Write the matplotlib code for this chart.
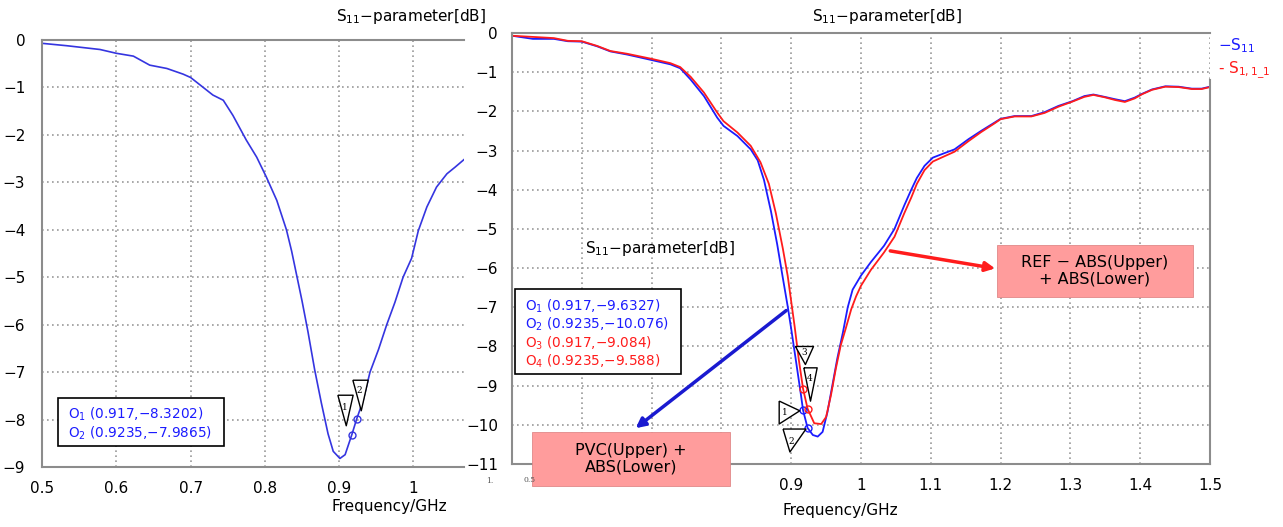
import numpy as np
import matplotlib.pyplot as plt
from matplotlib.patches import Rectangle
from matplotlib.transforms import offset_copy

# left panel: single S11 curve
freq_a = [0.50, 0.533, 0.578, 0.60, 0.623, 0.645, 0.668, 0.69, 0.70, 0.713, 0.73, 0.744,
          0.757, 0.775, 0.789, 0.802, 0.816, 0.829, 0.836, 0.84, 0.85, 0.858, 0.867, 0.876,
          0.885, 0.892, 0.901, 0.908, 0.917, 0.9235, 0.932, 0.9415, 0.953, 0.964, 0.975,
          0.986, 0.9975, 1.0065, 1.018, 1.031, 1.045, 1.056, 1.068]
s11_a = [-0.07, -0.12, -0.2, -0.28, -0.34, -0.53, -0.6, -0.72, -0.79, -0.95, -1.16, -1.27,
         -1.59, -2.11, -2.47, -2.89, -3.38, -4.0, -4.45, -4.75, -5.5, -6.15, -6.95, -7.65,
         -8.3, -8.67, -8.82, -8.74, -8.32, -7.99, -7.61, -7.0, -6.52, -6.0, -5.53,
         -5.0, -4.6, -4.02, -3.52, -3.1, -2.82, -2.68, -2.52]

# right panel: blue curve (S11)
freq_b = [0.50, 0.53, 0.56, 0.58, 0.60, 0.622, 0.641, 0.665, 0.70, 0.727, 0.741, 0.756,
          0.775, 0.794, 0.803, 0.823, 0.842, 0.852, 0.861, 0.871, 0.88, 0.888, 0.895, 0.90,
          0.907, 0.914, 0.917, 0.9235, 0.931, 0.938, 0.945, 0.952, 0.959, 0.966, 0.974,
          0.981, 0.988, 1.0, 1.014, 1.033, 1.048, 1.062, 1.072, 1.08, 1.091, 1.103,
          1.119, 1.134, 1.154, 1.172, 1.191, 1.2, 1.22, 1.244, 1.263, 1.283, 1.303, 1.32,
          1.333, 1.349, 1.364, 1.378, 1.392, 1.403, 1.417, 1.436, 1.455, 1.474, 1.488, 1.5]
s11_b = [-0.07, -0.15, -0.15, -0.21, -0.22, -0.34, -0.47, -0.55, -0.69, -0.8, -0.9, -1.19,
         -1.61, -2.16, -2.37, -2.63, -2.97, -3.25, -3.75, -4.55, -5.4, -6.25, -6.98, -7.55,
         -8.39, -9.24, -9.63, -10.08, -10.26, -10.3, -10.18, -9.67, -8.99, -8.31, -7.65,
         -7.0, -6.55, -6.19, -5.85, -5.43, -5.0, -4.4, -4.0, -3.7, -3.39, -3.18,
         -3.07, -2.97, -2.71, -2.5, -2.29, -2.19, -2.12, -2.12, -2.02, -1.86, -1.74, -1.61,
         -1.57, -1.63, -1.69, -1.74, -1.65, -1.55, -1.44, -1.36, -1.37, -1.42, -1.42, -1.37]

# right panel: red curve (S1,1_1)
freq_c = [0.50, 0.53, 0.56, 0.58, 0.60, 0.622, 0.641, 0.665, 0.70, 0.727, 0.741, 0.756,
          0.775, 0.794, 0.803, 0.823, 0.842, 0.856, 0.868, 0.878, 0.888, 0.895, 0.90,
          0.905, 0.911, 0.917, 0.9235, 0.933, 0.943, 0.95, 0.957, 0.964, 0.971, 0.978,
          0.986, 0.993, 1.0, 1.014, 1.033, 1.048, 1.062, 1.072, 1.08, 1.091, 1.103,
          1.119, 1.134, 1.154, 1.172, 1.191, 1.2, 1.22, 1.244, 1.263, 1.283, 1.303, 1.32,
          1.333, 1.349, 1.364, 1.378, 1.392, 1.403, 1.417, 1.436, 1.455, 1.474, 1.488, 1.5]
s11_c = [-0.07, -0.1, -0.13, -0.2, -0.21, -0.33, -0.46, -0.53, -0.66, -0.77, -0.87, -1.12,
         -1.52, -2.03, -2.25, -2.54, -2.88, -3.3, -3.85, -4.6, -5.5, -6.2, -6.85,
         -7.5, -8.35, -9.08, -9.59, -9.96, -9.98, -9.8, -9.24, -8.56, -7.97, -7.55,
         -7.05, -6.72, -6.45, -6.05, -5.6, -5.2, -4.6, -4.2, -3.85, -3.5, -3.28,
         -3.15, -3.03, -2.76, -2.53, -2.31, -2.2, -2.13, -2.13, -2.04, -1.88, -1.75, -1.63,
         -1.58, -1.64, -1.71, -1.76, -1.67, -1.56, -1.45, -1.37, -1.38, -1.43, -1.43, -1.38]

# marker readouts
mark_a = [(0.917, -8.3202), (0.9235, -7.9865)]
mark_b = [(0.917, -9.6327), (0.9235, -10.076)]
mark_c = [(0.917, -9.084), (0.9235, -9.588)]

W, H = 1283, 527


def fx(px):
    return px / W


def fy(py):
    return 1 - py / H


blue_a = '#3535e0'
blue = '#1c1cff'
red = '#ff1c1c'
spine_col = '#8c8c8c'
grid_col = '#9a9a9a'
pink = '#ff9c9c'

fig = plt.figure(figsize=(W / 100, H / 100), dpi=100)

axA = fig.add_axes([fx(42), fy(467), fx(464 - 42), (467 - 40) / H])
axB = fig.add_axes([fx(512), fy(464), fx(1210 - 512), (464 - 33) / H])

for ax in (axA, axB):
    ax.grid(True, color=grid_col, linestyle=(0, (1, 2)), linewidth=1.2)
    ax.tick_params(length=0, labelsize=11, pad=10)
    for s in ax.spines.values():
        s.set_color(spine_col)
        s.set_linewidth(1.5)

# left panel
axA.plot(freq_a, s11_a, color=blue_a, lw=1.2)
axA.set_xlim(0.5, 1.068)
axA.set_ylim(-9, 0)
axA.set_xticks([0.5, 0.6, 0.7, 0.8, 0.9, 1.0])
axA.set_xticklabels(['0.5', '0.6', '0.7', '0.8', '0.9', '1'])
axA.set_yticks(range(-9, 1))
axA.set_yticklabels(['\u2212' + str(abs(v)) if v else '0' for v in range(-9, 1)])
axA.spines['right'].set_visible(False)
axA.tick_params(axis='y', pad=12)
axA.plot(*zip(*mark_a), 'o', ms=5, mfc='none', mec=blue_a, mew=1)

# right panel
axB.plot(freq_b, s11_b, color=blue, lw=1.3)
axB.plot(freq_c, s11_c, color=red, lw=1.3)
axB.set_xlim(0.5, 1.5)
axB.set_ylim(-11, 0)
xt = [0.5, 0.6, 0.7, 0.8, 0.9, 1.0, 1.1, 1.2, 1.3, 1.4, 1.5]
axB.set_xticks(xt)
axB.set_xticklabels(['', '', '', '', '0.9', '1', '1.1', '1.2', '1.3', '1.4', '1.5'])
axB.set_yticks(range(-11, 1))
axB.set_yticklabels(['\u2212' + str(abs(v)) if v else '0' for v in range(-11, 1)])
axB.spines['right'].set_bounds(-11, -1.2)
axB.plot(*zip(*mark_b), 'o', ms=5, mfc='none', mec=blue, mew=1)
axB.plot(*zip(*mark_c), 'o', ms=5, mfc='none', mec=red, mew=1)

# triangle callouts near the markers (offsets in pixels)
tri_tall = [(-0.5, 1), (0.5, 1), (0.05, -1), (-0.5, 1)]
tri_slim = [(-0.4, 1), (0.4, 1), (0.0, -1), (-0.4, 1)]
tri_wide = [(-1, 1), (1, 1), (0.1, -1), (-1, 1)]
tri_right = [(-0.9, 1), (-0.9, -1), (0.9, 0.15), (-0.9, 1)]
tri_low = [(-1, 1), (1, 1), (-0.4, -1), (-1, 1)]


def callout(ax, pt, label, dx, dy, shape, size, ty=0, tx=0):
    tr = offset_copy(ax.transData, fig=fig, x=dx, y=dy, units='dots')
    ax.plot([pt[0]], [pt[1]], marker=shape, ms=size, mfc='white', mec='black',
            mew=1, transform=tr, zorder=4)
    tr2 = offset_copy(ax.transData, fig=fig, x=dx + tx, y=dy + ty, units='dots')
    ax.text(pt[0], pt[1], label, transform=tr2, ha='center', va='center',
            fontsize=6.5, family='serif', zorder=5)


callout(axA, mark_a[0], '1', -7, 25, tri_tall, 22, ty=2)
callout(axA, mark_a[1], '2', 3, 24, tri_tall, 22, ty=4)
callout(axB, mark_b[0], '1', -14, -2, tri_right, 16.5, tx=-4)
callout(axB, mark_b[1], '2', -14, -12, tri_low, 16.5, ty=-2, tx=-2)
callout(axB, mark_c[0], '3', 1, 34, tri_wide, 13, ty=2)
callout(axB, mark_c[1], '4', 2, 25, tri_slim, 24, ty=5)

# arrows
axB.annotate('', xy=(0.674, -10.13), xytext=(0.896, -7.04),
             arrowprops=dict(arrowstyle='-|>', color='#1a1ad0', lw=2.5, mutation_scale=14))
axB.annotate('', xy=(1.196, -6.02), xytext=(1.038, -5.55),
             arrowprops=dict(arrowstyle='-|>', color=red, lw=2.5, mutation_scale=14))

# titles
title = 'S$_{11}$\u2212parameter[dB]'
fig.text(fx(411), fy(17), title, ha='center', va='center', fontsize=11)
fig.text(fx(887), fy(17), title, ha='center', va='center', fontsize=11)
fig.text(fx(660), fy(248), title, ha='center', va='center', fontsize=11)

fig.text(fx(389), fy(507), 'Frequency/GHz', ha='center', va='center', fontsize=11)
fig.text(fx(840), fy(511), 'Frequency/GHz', ha='center', va='center', fontsize=11)

# legend
fig.text(fx(1218), fy(46), '\u2212S$_{11}$', color=blue, ha='left', va='center', fontsize=11)
fig.text(fx(1218), fy(70), r'- S$_{1,1\_1}$', color=red, ha='left', va='center', fontsize=11)

# small stray labels
fig.text(fx(530), fy(480), '0.5', family='serif', fontsize=5.5, ha='center', va='center', color='#555555')
fig.text(fx(490), fy(481), '1.', family='serif', fontsize=5.5, ha='center', va='center', color='#555555')

# readout boxes
fig.add_artist(Rectangle((fx(58), fy(446)), fx(224 - 58), (446 - 398) / H,
                         transform=fig.transFigure, fc='white', ec='black', lw=1.2))
fig.text(fx(68), fy(414), 'O$_1$ (0.917,\u22128.3202)', color=blue, fontsize=9.8, va='center')
fig.text(fx(68), fy(433), 'O$_2$ (0.9235,\u22127.9865)', color=blue, fontsize=9.8, va='center')

fig.add_artist(Rectangle((fx(515), fy(374)), fx(681 - 515), (374 - 289) / H,
                         transform=fig.transFigure, fc='white', ec='black', lw=1.2))
lines_b = ['O$_1$ (0.917,\u22129.6327)', 'O$_2$ (0.9235,\u221210.076)',
           'O$_3$ (0.917,\u22129.084)', 'O$_4$ (0.9235,\u22129.588)']
cols_b = [blue, blue, red, red]
for i, (t, c) in enumerate(zip(lines_b, cols_b)):
    fig.text(fx(525), fy(306 + 18.5 * i), t, color=c, fontsize=9.8, va='center')

# pink labels
fig.add_artist(Rectangle((fx(532), fy(486)), fx(730 - 532), (486 - 432) / H,
                         transform=fig.transFigure, fc=pink, ec='#e08888', lw=0.6))
fig.text(fx(631), fy(459), 'PVC(Upper) +\nABS(Lower)', ha='center', va='center',
         fontsize=11.5, linespacing=1.15)
fig.add_artist(Rectangle((fx(997), fy(297)), fx(1193 - 997), (297 - 245) / H,
                         transform=fig.transFigure, fc=pink, ec='#e08888', lw=0.6))
fig.text(fx(1095), fy(271), 'REF \u2212 ABS(Upper)\n+ ABS(Lower)', ha='center', va='center',
         fontsize=11.5, linespacing=1.15)

fig.savefig('out.png', dpi=100)
